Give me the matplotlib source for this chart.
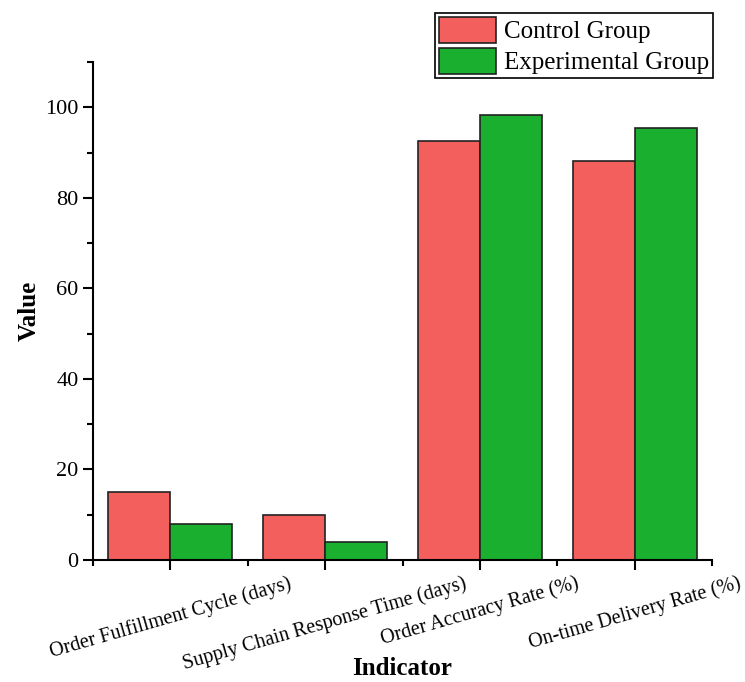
import matplotlib
matplotlib.use("Agg")
import matplotlib.pyplot as plt
import numpy as np
from matplotlib.ticker import MultipleLocator, FixedLocator

categories = ["Order Fulfillment Cycle (days)", "Supply Chain Response Time (days)",
              "Order Accuracy Rate (%)", "On-time Delivery Rate (%)"]
control = [15.0, 10.0, 92.5, 88.2]
experimental = [8.0, 4.0, 98.3, 95.5]
series_names = ["Control Group", "Experimental Group"]

plt.rcParams['font.family'] = ['Liberation Serif', 'DejaVu Serif']

fig = plt.figure(figsize=(7.45, 6.82), dpi=100)
ax = fig.add_axes([93/745, 122/682, (712-93)/745, (560-62)/682])

x = np.arange(len(categories))
w = 0.4
red = '#F25F5C'
green = '#1AAF2E'
ax.bar(x - w/2, control, w, color=red, edgecolor='#222222', linewidth=1.2, label=series_names[0])
ax.bar(x + w/2, experimental, w, color=green, edgecolor='#222222', linewidth=1.2, label=series_names[1])

ax.set_xlim(-0.5, 3.5)
ax.set_ylim(0, 110)
ax.spines['top'].set_visible(False)
ax.spines['right'].set_visible(False)
for s in ['left', 'bottom']:
    ax.spines[s].set_linewidth(1.5)

ax.yaxis.set_major_locator(MultipleLocator(20))
ax.yaxis.set_minor_locator(MultipleLocator(10))
ax.set_xticks(x)
ax.xaxis.set_minor_locator(FixedLocator([-0.5, 0.5, 1.5, 2.5, 3.5]))
ax.tick_params(which='major', direction='out', length=7, width=1.5, labelsize=16)
ax.tick_params(which='minor', direction='out', length=4, width=1.5)
ax.set_xticklabels(categories, rotation=16, ha='center', fontsize=14.5)
ax.tick_params(axis='x', which='major', pad=3)
labels = ax.get_xticklabels()
labels[-1].set_x(3 - 0.03)

ax.set_ylabel("Value", fontsize=18, fontweight='bold', labelpad=3)
ax.set_xlabel("Indicator", fontsize=18, fontweight='bold')
ax.xaxis.set_label_coords(0.5, -0.218)
ax.xaxis.label.set_va('center')

leg = ax.legend(loc='upper right', bbox_to_anchor=(1.0016, 1.098), fontsize=18,
                frameon=True, fancybox=False, edgecolor='black', framealpha=1,
                handlelength=2.28, handleheight=1.2, handletextpad=0.32,
                borderpad=0.15, labelspacing=0.2, borderaxespad=0)
leg.get_frame().set_linewidth(1.2)

fig.savefig("out.png", dpi=100)
